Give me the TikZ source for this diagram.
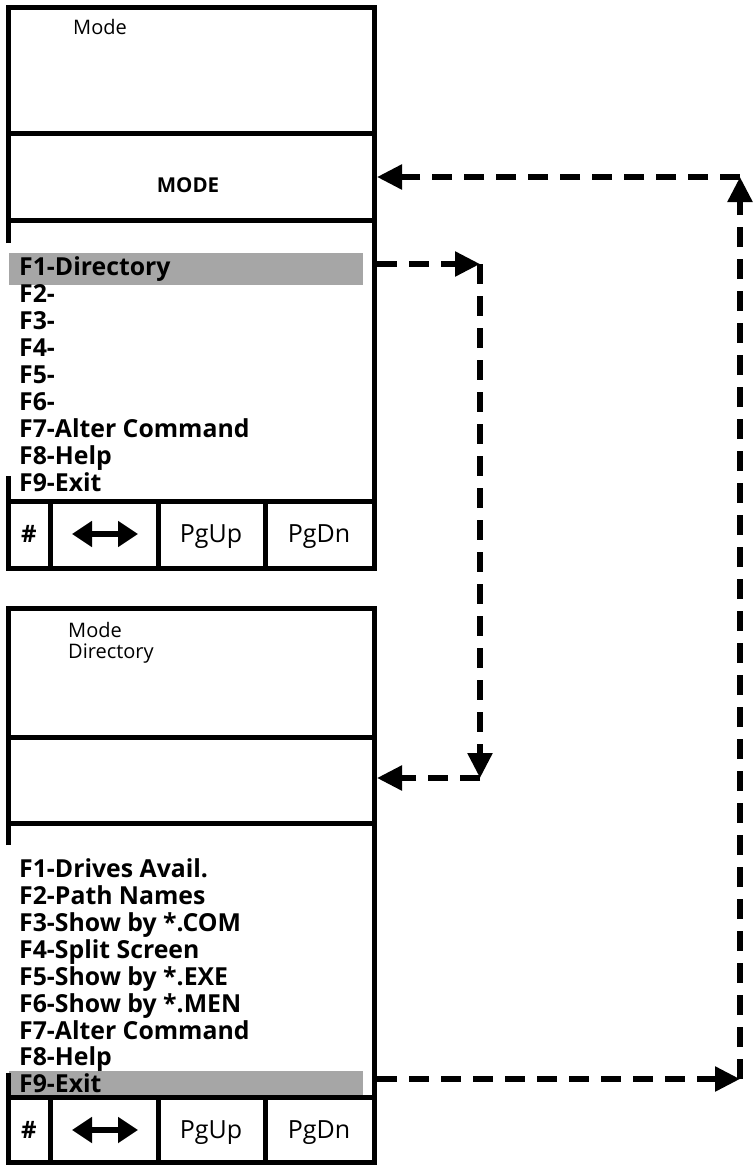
\documentclass[tikz,border=0pt]{standalone}
\usepackage{fontspec}
\setmainfont{Open Sans}
\usepackage{tikz}
\usetikzlibrary{arrows.meta}
\tikzstyle{scr}=[line width=5pt]
\tikzstyle{hl}=[fill=black!35]
\tikzstyle{menu}=[anchor=base west,inner sep=0pt,font=\fontsize{24.8}{25}\selectfont\bfseries]
\tikzstyle{head}=[anchor=base west,inner sep=0pt,font=\fontsize{20}{20}\selectfont]
\tikzstyle{key}=[anchor=base,inner sep=0pt,font=\fontsize{25}{25}\selectfont]
\tikzstyle{flow}=[-{Triangle[length=25pt,width=24pt]}, line width=5.5pt, dash pattern=on 20pt off 12pt]
\tikzstyle{lr}=[{Triangle[length=20pt,width=25pt]}-{Triangle[length=20pt,width=25pt]}, line width=6pt]

\begin{document}
\begin{tikzpicture}[x=1pt,y=-1pt]
\useasboundingbox (0,0) rectangle (753,1165);
% upper screen
\fill[hl] (9,253) rectangle (363,285);
\draw[scr] (8,243) -- (8,7) -- (374,7) -- (374,568) -- (8,568) -- (8,476);
\draw[scr] (8,133) -- (374,133);
\draw[scr] (8,220) -- (374,220);
\draw[scr] (8,501) -- (374,501);
\draw[scr] (50,501) -- (50,568);\draw[scr] (158,501) -- (158,568);\draw[scr] (265,501) -- (265,568);
\node[head] (mode1) at (73,34) {Mode};
\node[key,font=\fontsize{20.5}{20}\selectfont\bfseries] (MODE) at (188,192) {MODE};
\node[menu] (a1) at (19,275) {F1-Directory};
\node[menu] (a2) at (19,302) {F2-};
\node[menu] (a3) at (19,329) {F3-};
\node[menu] (a4) at (19,356) {F4-};
\node[menu] (a5) at (19,383) {F5-};
\node[menu] (a6) at (19,410) {F6-};
\node[menu] (a7) at (19,437) {F7-Alter Command};
\node[menu] (a8) at (19,464) {F8-Help};
\node[menu] (a9) at (19,491) {F9-Exit};
\node[key,font=\fontsize{24}{24}\selectfont\bfseries] (hash1) at (29,542) {\#};
\coordinate (lra) at (72,534);\coordinate (lrb) at (138,534);
\draw[lr] (lra) -- (lrb);
\node[key] (up1) at (211,542) {PgUp};
\node[key] (dn1) at (319,542) {PgDn};
% lower screen
\fill[hl] (9,1071) rectangle (363,1098);
\draw[scr] (8,845) -- (8,608) -- (374,608) -- (374,1162) -- (8,1162) -- (8,1073);
\draw[scr] (8,737) -- (374,737);
\draw[scr] (8,823) -- (374,823);
\draw[scr] (8,1097) -- (374,1097);
\draw[scr] (50,1097) -- (50,1162);\draw[scr] (158,1097) -- (158,1162);\draw[scr] (265,1097) -- (265,1162);
\node[head] (mode2) at (68,637) {Mode};
\node[head] (dir2) at (68,658) {Directory};
\node[menu] (b1) at (19,877) {F1-Drives Avail.};
\node[menu] (b2) at (19,904) {F2-Path Names};
\node[menu] (b3) at (19,931) {F3-Show by *.COM};
\node[menu] (b4) at (19,958) {F4-Split Screen};
\node[menu] (b5) at (19,985) {F5-Show by *.EXE};
\node[menu] (b6) at (19,1012) {F6-Show by *.MEN};
\node[menu] (b7) at (19,1039) {F7-Alter Command};
\node[menu] (b8) at (19,1065) {F8-Help};
\node[menu] (b9) at (19,1092) {F9-Exit};
\node[key,font=\fontsize{24}{24}\selectfont\bfseries] (hash2) at (29,1138) {\#};
\coordinate (lrc) at (72,1130);\coordinate (lrd) at (138,1130);
\draw[lr] (lrc) -- (lrd);
\node[key] (up2) at (211,1138) {PgUp};
\node[key] (dn2) at (319,1138) {PgDn};
% links
\coordinate (dirout) at (377,264);
\coordinate (dirturn) at (480,264);
\coordinate (dirdown) at (480,778);
\coordinate (dirin) at (377,778);
\draw[flow] (dirout) -- (dirturn);
\draw[flow] (dirturn) -- (dirdown);
\draw[flow] (dirdown) -- (dirin);
\coordinate (exitout) at (377,1079);
\coordinate (exitturn) at (740,1079);
\coordinate (exitup) at (740,177);
\coordinate (modein) at (377,177);
\draw[flow] (exitout) -- (exitturn);
\draw[flow] (exitturn) -- (exitup);
\draw[flow] (exitup) -- (modein);
\end{tikzpicture}
\end{document}
